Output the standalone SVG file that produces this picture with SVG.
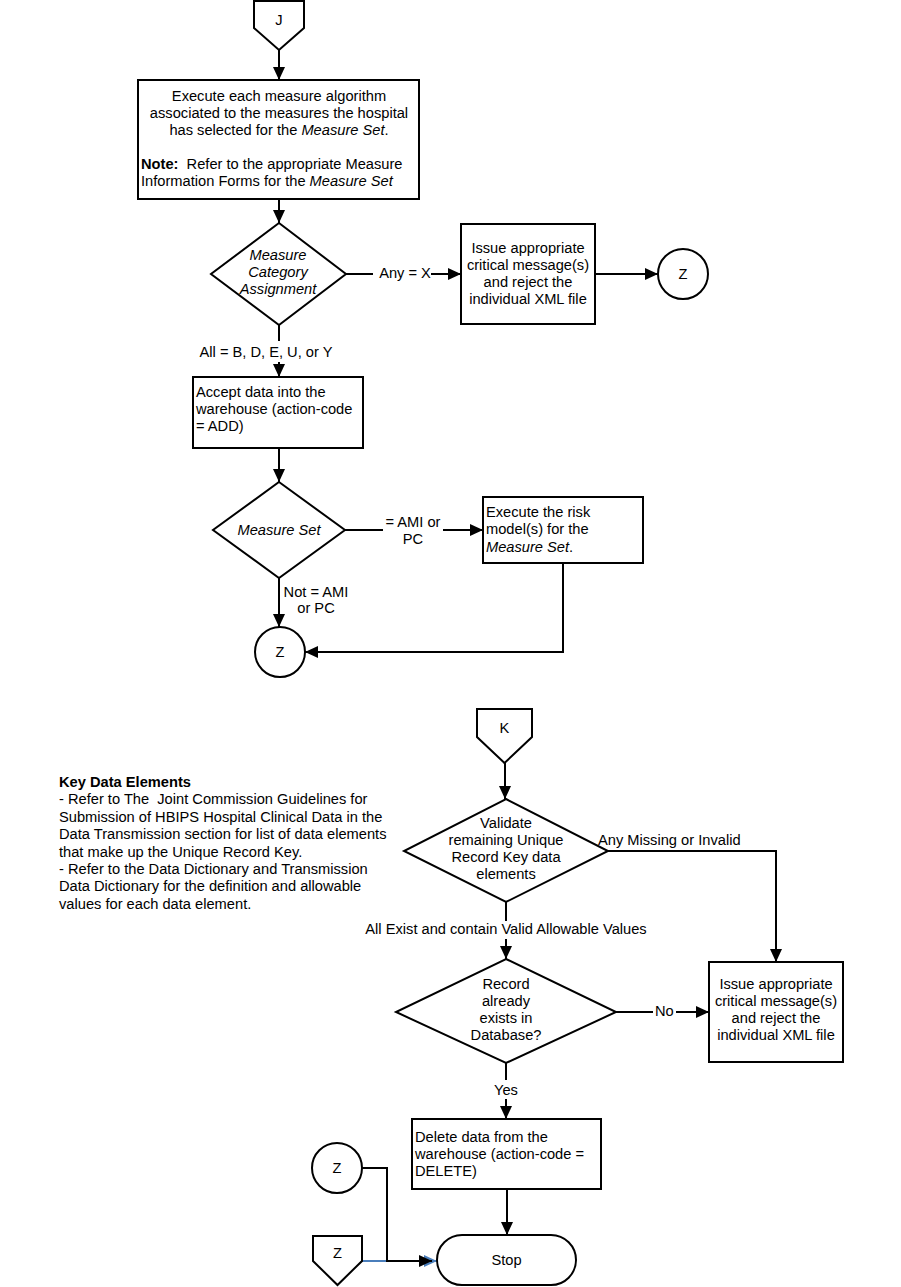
<svg xmlns="http://www.w3.org/2000/svg" width="901" height="1287" viewBox="0 0 901 1287">
<style>
  .shape { fill: #ffffff; stroke: #000000; stroke-width: 2; }
  .conn { fill: none; stroke: #000000; stroke-width: 2; }
  .blue { fill: none; stroke: #4a7ebb; stroke-width: 2; }
  text { font-family: "Liberation Sans", Arial, sans-serif; font-size: 14.67px; fill: #000000; white-space: pre; }
  .c { text-anchor: middle; }
  .i { font-style: italic; }
  .b { font-weight: bold; }
</style>
<defs>
  <marker id="arr" markerUnits="userSpaceOnUse" markerWidth="13" markerHeight="12" refX="13" refY="6" orient="auto">
    <path d="M0,0 L13,6 L0,12 z" fill="#000000"/>
  </marker>
  <marker id="arrBlue" markerUnits="userSpaceOnUse" markerWidth="13" markerHeight="12" refX="13" refY="6" orient="auto">
    <path d="M0,0 L13,6 L0,12 z" fill="#4a7ebb"/>
  </marker>
</defs>
<rect width="901" height="1287" fill="#ffffff"/>

<g id="connectors">
  <path class="conn" d="M279,50 L279,80" marker-end="url(#arr)"/>
  <path class="conn" d="M279,199 L279,223" marker-end="url(#arr)"/>
  <path class="conn" d="M346,274 L373,274"/>
  <path class="conn" d="M431,274 L461,274" marker-end="url(#arr)"/>
  <path class="conn" d="M595,274 L658,274" marker-end="url(#arr)"/>
  <path class="conn" d="M279,325 L279,341"/>
  <path class="conn" d="M279,362 L279,377" marker-end="url(#arr)"/>
  <path class="conn" d="M279,448 L279,482" marker-end="url(#arr)"/>
  <path class="conn" d="M345,530 L383,530"/>
  <path class="conn" d="M443,530 L483,530" marker-end="url(#arr)"/>
  <path class="conn" d="M279,578 L279,627" marker-end="url(#arr)"/>
  <path class="conn" d="M563,563 L563,652 L305,652" marker-end="url(#arr)"/>
  <path class="conn" d="M505,763 L505,799" marker-end="url(#arr)"/>
  <path class="conn" d="M608,851 L776,851 L776,962" marker-end="url(#arr)"/>
  <path class="conn" d="M506,902 L506,921"/>
  <path class="conn" d="M506,939 L506,959" marker-end="url(#arr)"/>
  <path class="conn" d="M616,1012 L653,1012"/>
  <path class="conn" d="M676,1012 L709,1012" marker-end="url(#arr)"/>
  <path class="conn" d="M506,1063 L506,1080"/>
  <path class="conn" d="M506,1099 L506,1119" marker-end="url(#arr)"/>
  <path class="conn" d="M507,1189 L507,1235" marker-end="url(#arr)"/>
  <path class="blue" d="M362,1261 L437,1261" marker-end="url(#arrBlue)"/>
  <path class="conn" d="M362,1168 L387,1168 L387,1261 L432,1261" marker-end="url(#arr)"/>
  <text class="c" x="405" y="278">Any = X</text>
  <text class="c" x="266" y="357">All = B, D, E, U, or Y</text>
  <text class="c" x="413" y="527">= AMI or</text>
  <text class="c" x="413" y="544">PC</text>
  <text class="c" x="316" y="597">Not = AMI</text>
  <text class="c" x="316" y="613">or PC</text>
  <text x="598" y="845">Any Missing or Invalid</text>
  <text class="c" x="506" y="934">All Exist and contain Valid Allowable Values</text>
  <text x="655" y="1016">No</text>
  <text class="c" x="506" y="1095">Yes</text>
</g>

<g id="J">
  <path class="shape" d="M254,1 L304,1 L304,28 L279,50 L254,28 z"/>
  <text class="c" x="279" y="25">J</text>
</g>

<g id="execute-measures">
  <rect class="shape" x="138" y="80" width="281" height="119"/>
  <text class="c" x="279" y="101">Execute each measure algorithm</text>
  <text class="c" x="279" y="118">associated to the measures the hospital</text>
  <text class="c" x="279" y="135">has selected for the <tspan class="i">Measure Set</tspan>.</text>
  <text x="141" y="169"><tspan class="b">Note:</tspan>  Refer to the appropriate Measure</text>
  <text x="141" y="186">Information Forms for the <tspan class="i">Measure Set</tspan></text>
</g>

<g id="category-decision">
  <path class="shape" d="M279,223 L346,274 L279,325 L211,274 z"/>
  <text class="c i" x="278" y="260">Measure</text>
  <text class="c i" x="278" y="277">Category</text>
  <text class="c i" x="278" y="294">Assignment</text>
</g>

<g id="reject-1">
  <rect class="shape" x="461" y="224" width="134" height="100"/>
  <text class="c" x="528" y="253">Issue appropriate</text>
  <text class="c" x="528" y="270">critical message(s)</text>
  <text class="c" x="528" y="287">and reject the</text>
  <text class="c" x="528" y="304">individual XML file</text>
</g>

<g id="Z1">
  <circle class="shape" cx="683" cy="274" r="25"/>
  <text class="c" x="683" y="279">Z</text>
</g>

<g id="accept-data">
  <rect class="shape" x="193" y="377" width="170" height="71"/>
  <text x="196" y="397">Accept data into the</text>
  <text x="196" y="414">warehouse (action-code</text>
  <text x="196" y="431">= ADD)</text>
</g>

<g id="measure-set-decision">
  <path class="shape" d="M279,482 L345,530 L279,578 L213,530 z"/>
  <text class="c i" x="279" y="535">Measure Set</text>
</g>

<g id="risk-model">
  <rect class="shape" x="483" y="497" width="160" height="66"/>
  <text x="486" y="517">Execute the risk</text>
  <text x="486" y="534">model(s) for the</text>
  <text x="486" y="552"><tspan class="i">Measure Set</tspan>.</text>
</g>

<g id="Z2">
  <circle class="shape" cx="280" cy="652" r="25"/>
  <text class="c" x="280" y="657">Z</text>
</g>

<g id="key-note">
  <text class="b" x="59" y="787">Key Data Elements</text>
  <text x="59" y="804.4">- Refer to The  Joint Commission Guidelines for</text>
  <text x="59" y="821.8">Submission of HBIPS Hospital Clinical Data in the</text>
  <text x="59" y="839.2">Data Transmission section for list of data elements</text>
  <text x="59" y="856.6">that make up the Unique Record Key.</text>
  <text x="59" y="874">- Refer to the Data Dictionary and Transmission</text>
  <text x="59" y="891.4">Data Dictionary for the definition and allowable</text>
  <text x="59" y="908.8">values for each data element.</text>
</g>

<g id="K">
  <path class="shape" d="M477,709 L532,709 L532,737 L504.5,763 L477,737 z"/>
  <text class="c" x="504.5" y="733">K</text>
</g>

<g id="validate-decision">
  <path class="shape" d="M506,799 L608,851 L506,902 L404,851 z"/>
  <text class="c" x="506" y="828">Validate</text>
  <text class="c" x="506" y="845">remaining Unique</text>
  <text class="c" x="506" y="862">Record Key data</text>
  <text class="c" x="506" y="879">elements</text>
</g>

<g id="exists-decision">
  <path class="shape" d="M506,959 L616,1012 L506,1063 L396,1012 z"/>
  <text class="c" x="506" y="989">Record</text>
  <text class="c" x="506" y="1006">already</text>
  <text class="c" x="506" y="1023">exists in</text>
  <text class="c" x="506" y="1040">Database?</text>
</g>

<g id="reject-2">
  <rect class="shape" x="709" y="962" width="134" height="100"/>
  <text class="c" x="776" y="989">Issue appropriate</text>
  <text class="c" x="776" y="1006">critical message(s)</text>
  <text class="c" x="776" y="1023">and reject the</text>
  <text class="c" x="776" y="1040">individual XML file</text>
</g>

<g id="delete-data">
  <rect class="shape" x="412" y="1119" width="189" height="70"/>
  <text x="415" y="1142">Delete data from the</text>
  <text x="415" y="1159">warehouse (action-code =</text>
  <text x="415" y="1176">DELETE)</text>
</g>

<g id="Z3">
  <circle class="shape" cx="337" cy="1168" r="25"/>
  <text class="c" x="337" y="1173">Z</text>
</g>

<g id="Z-offpage">
  <path class="shape" d="M313,1236 L362,1236 L362,1261 L337.5,1285 L313,1261 z"/>
  <text class="c" x="337.5" y="1258">Z</text>
</g>

<g id="stop">
  <rect class="shape" x="437" y="1235" width="139" height="50" rx="25" ry="25"/>
  <text class="c" x="506.5" y="1265">Stop</text>
</g>
</svg>
